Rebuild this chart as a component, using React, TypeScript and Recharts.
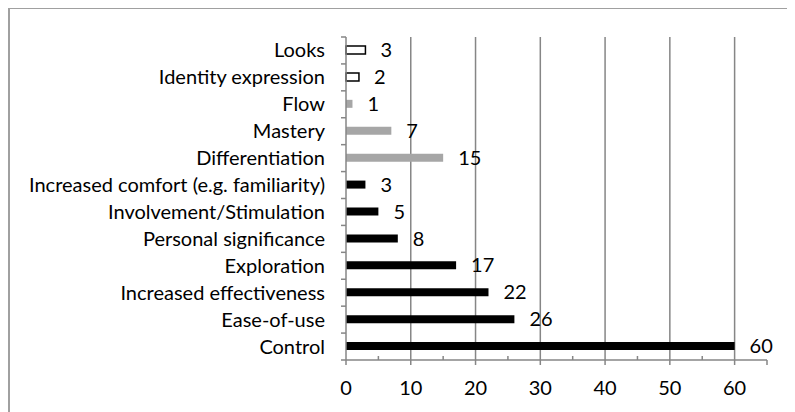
import React from 'react';
import {
  BarChart,
  Bar,
  XAxis,
  YAxis,
  CartesianGrid,
  LabelList,
  Cell,
} from 'recharts';

const CATEGORIES = [
  'Looks',
  'Identity expression',
  'Flow',
  'Mastery',
  'Differentiation',
  'Increased comfort (e.g. familiarity)',
  'Involvement/Stimulation',
  'Personal significance',
  'Exploration',
  'Increased effectiveness',
  'Ease-of-use',
  'Control',
];
const COUNTS = [3, 2, 1, 7, 15, 3, 5, 8, 17, 22, 26, 60];
const X_TICKS = [0, 5, 10, 15, 20, 25, 30, 35, 40, 45, 50, 55, 60, 65];
const X_LABELS = [0, 10, 20, 30, 40, 50, 60];
const GRID_VALUES = [10, 20, 30, 40, 50, 60];

// bar styling per row (top to bottom)
const FILLS = ['#fff', '#fff', '#a6a6a6', '#a6a6a6', '#a6a6a6', '#000', '#000', '#000', '#000', '#000', '#000', '#000'];
const STROKES = ['#000', '#000', 'none', 'none', 'none', 'none', 'none', 'none', 'none', 'none', 'none', 'none'];

const data = CATEGORIES.map((name, i) => ({ name, value: COUNTS[i] }));

const FONT = 'Lato, "Open Sans", sans-serif';
const FS = 20;
const AXIS = '#868686';
const W = 780;
const H = 396;
const MARGIN = { top: 29, right: 21, bottom: 14, left: 0 };
const X_AXIS_H = 30;
const BAND = (H - MARGIN.top - MARGIN.bottom - X_AXIS_H) / CATEGORIES.length;

const XTick = (props: any) => {
  const { x, y, payload } = props;
  const major = payload.value % 10 === 0 || payload.value === 65;
  return (
    <g>
      {major ? (
        <line x1={x} x2={x} y1={y} y2={y + 5} stroke={AXIS} strokeWidth={1.5} />
      ) : (
        <line x1={x} x2={x} y1={y - 4} y2={y} stroke={AXIS} strokeWidth={1.5} />
      )}
      {X_LABELS.includes(payload.value) && (
        <text x={x} y={y + 35} textAnchor="middle" fontSize={FS} fontFamily={FONT} fill="#000">
          {payload.value}
        </text>
      )}
    </g>
  );
};

const YTick = (props: any) => {
  const { x, y, payload, index } = props;
  return (
    <g>
      <line x1={x - 5} x2={x} y1={y - BAND / 2} y2={y - BAND / 2} stroke={AXIS} strokeWidth={1.5} />
      {index === CATEGORIES.length - 1 && (
        <line x1={x - 5} x2={x} y1={y + BAND / 2} y2={y + BAND / 2} stroke={AXIS} strokeWidth={1.5} />
      )}
      <text x={x - 21} y={y} dy={7} textAnchor="end" fontSize={FS} fontFamily={FONT} fill="#000">
        {payload.value}
      </text>
    </g>
  );
};

export default function App() {
  return (
    <div style={{ position: 'relative', width: 795, height: 412 }}>
      <BarChart
        width={W}
        height={H}
        data={data}
        layout="vertical"
        margin={MARGIN}
        style={{ position: 'absolute', left: 0, top: 0 }}
      >
        <CartesianGrid horizontal={false} verticalValues={GRID_VALUES} stroke={AXIS} strokeWidth={1.5} />
        <XAxis
          type="number"
          domain={[0, 65]}
          ticks={X_TICKS}
          interval={0}
          height={X_AXIS_H}
          tickSize={0}
          tickMargin={0}
          tickLine={false}
          axisLine={{ stroke: AXIS, strokeWidth: 1.5 }}
          tick={<XTick />}
        />
        <YAxis
          type="category"
          dataKey="name"
          width={338}
          interval={0}
          tickSize={0}
          tickMargin={0}
          tickLine={false}
          axisLine={{ stroke: AXIS, strokeWidth: 1.5 }}
          tick={<YTick />}
        />
        <Bar dataKey="value" barSize={8} isAnimationActive={false}>
          {data.map((d, i) => (
            <Cell key={d.name} fill={FILLS[i]} stroke={STROKES[i]} strokeWidth={1.5} />
          ))}
          <LabelList
            dataKey="value"
            position="right"
            offset={15}
            fontSize={FS}
            fontFamily={FONT}
            fill="#000"
          />
        </Bar>
      </BarChart>
      <div
        style={{
          position: 'absolute',
          left: 0,
          top: -1,
          width: 800,
          height: 420,
          border: '2px solid #a0a0a0',
          boxSizing: 'border-box',
          zIndex: 5,
          pointerEvents: 'none',
        }}
      />
    </div>
  );
}
